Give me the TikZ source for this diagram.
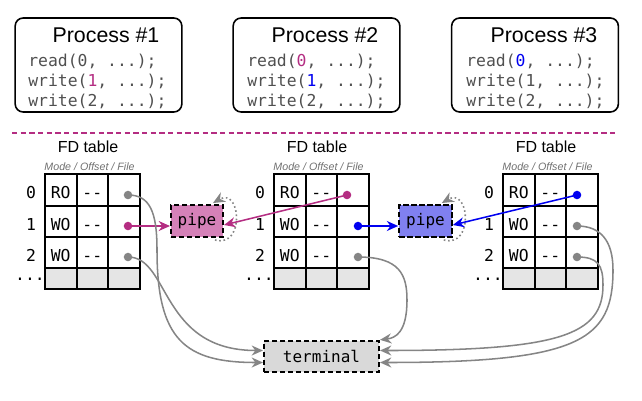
\documentclass[tikz,border=0pt]{standalone}
\usepackage{fontspec}
\setmainfont{Liberation Sans}
\newfontfamily\codefont{DejaVu Sans Mono}
\usetikzlibrary{arrows.meta,calc}

\definecolor{pmag}{HTML}{B42D82}
\definecolor{pblue}{HTML}{0000F0}
\definecolor{pmagfill}{HTML}{D581B8}
\definecolor{pbluefill}{HTML}{8080F0}
\definecolor{codegray}{HTML}{505050}
\definecolor{subgray}{HTML}{707070}
\definecolor{wire}{HTML}{858585}

% one FD table: #1 = left edge, #2 = name prefix
\newcommand{\fdgrid}[2]{%
  \begin{scope}[shift={(#1,0)}]
    \fill[gray!20] (0,268) rectangle (94.5,289);
    \draw[tbl] (0,174) rectangle (94.5,289);
    \draw[tbl] (0,205.5) -- (94.5,205.5) (0,237) -- (94.5,237) (0,268) -- (94.5,268);
    \draw[tbl] (31.5,174) -- (31.5,289) (63,174) -- (63,289);
    \node[hdr] (#2-title) at (43,147) {FD table};
    \node[sub] (#2-sub) at (44.5,167) {Mode / Offset / File};
    \foreach \r/\m/\y in {0/RO/198,1/WO/230,2/WO/261} {
      \node[celltext] (#2-fd\r) at (-14,\y) {\r};
      \node[celltext] (#2-mode\r) at (15.75,\y) {\m};
      \node[celltext] (#2-off\r) at (47.25,\y) {-{}-};
    }
    \node[celltext] (#2-more) at (-15,280) {...};
  \end{scope}}

\begin{document}
\begin{tikzpicture}[x=0.75pt,y=-0.75pt,
  procbox/.style={draw, line width=1.2pt, rounded corners=6pt,
    minimum width=125pt, minimum height=70.5pt, inner sep=0pt},
  title/.style={font=\fontsize{16}{19}\selectfont, anchor=base, inner sep=0pt},
  code/.style={font=\codefont\fontsize{12.3}{15}\selectfont, text=codegray,
    anchor=base west, inner sep=0pt},
  hdr/.style={font=\fontsize{12}{14}\selectfont, inner sep=0pt},
  sub/.style={font=\itshape\fontsize{8}{10}\selectfont, text=subgray, inner sep=0pt},
  tbl/.style={line width=1.5pt},
  celltext/.style={font=\codefont\fontsize{12.3}{14}\selectfont, anchor=base, inner sep=0pt},
  dot/.style={circle, fill=#1, inner sep=0pt, minimum size=6.4pt},
  filebox/.style={draw, dash pattern=on 4pt off 2pt, line width=1.5pt, fill=#1,
    font=\codefont\fontsize{12}{14}\selectfont, inner sep=0pt},
  conn/.style={line width=1.15pt, -{Stealth[length=8.5pt,width=7.5pt]}},
  selfloop/.style={wire, dotted, line width=1.2pt, -{Stealth[length=9pt,width=8pt]}},
]
\useasboundingbox (0,0) rectangle (642,400);

% processes
\node[procbox] (proc1) at (98.5,65) {};
\node[procbox] (proc2) at (316.5,65) {};
\node[procbox] (proc3) at (535,65) {};

\node[title] (t1) at (106,42) {Process \#1};
\node[title] (t2) at (325,42) {Process \#2};
\node[title] (t3) at (544,42) {Process \#3};

\node[code] (p1a) at (28,66)  {read(0, ...);};
\node[code] (p1b) at (28,86)  {write({\color{pmag}1}, ...);};
\node[code] (p1c) at (28,106) {write(2, ...);};

\node[code] (p2a) at (247,66)  {read({\color{pmag}0}, ...);};
\node[code] (p2b) at (247,86)  {write({\color{pblue}1}, ...);};
\node[code] (p2c) at (247,106) {write(2, ...);};

\node[code] (p3a) at (466,66)  {read({\color{pblue}0}, ...);};
\node[code] (p3b) at (466,86)  {write(1, ...);};
\node[code] (p3c) at (466,106) {write(2, ...);};

% user / kernel divider
\draw[pmag, line width=1.2pt, dash pattern=on 4pt off 2.5pt] (12,133) -- (617,133);

% descriptor tables
\fdgrid{45}{ta}
\fdgrid{274}{tb}
\fdgrid{503}{tc}

% open files
\node[filebox=pmagfill, minimum width=39pt, minimum height=24pt] (pipeA) at (197,221) {pipe};
\node[filebox=pbluefill, minimum width=39.5pt, minimum height=24pt] (pipeB) at (425.5,221) {pipe};
\node[filebox=gray!30, minimum width=86.25pt, minimum height=23.5pt] (term) at (321.5,356.5) {terminal};

% file pointers
\node[dot=wire] (a0) at (128,195) {};
\node[dot=pmag] (a1) at (128,226) {};
\node[dot=wire] (a2) at (128,257) {};
\node[dot=pmag] (b0) at (347,195) {};
\node[dot=pblue] (b1) at (358,226) {};
\node[dot=wire] (b2) at (358,257) {};
\node[dot=pblue] (c0) at (577,195) {};
\node[dot=wire] (c1) at (577,226) {};
\node[dot=wire] (c2) at (577,257) {};

% pipe ends
\draw[conn, pmag] (a1.center) -- (a1.center -| pipeA.west);
\draw[conn, pmag] (b0.center) -- ($(pipeA.east)+(0,4)$);
\draw[conn, pblue] (b1.center) -- (b1.center -| pipeB.west);
\draw[conn, pblue] (c0.center) -- ($(pipeB.east)+(0,4)$);

% pipes feed themselves
\draw[selfloop] ($(pipeA.south east)+(-9,2)$) .. controls +(30,8) and +(28,-16) .. ($(pipeA.north east)+(-11,-1)$);
\draw[selfloop] ($(pipeB.south east)+(-9,2)$) .. controls +(30,8) and +(28,-16) .. ($(pipeB.north east)+(-11,-1)$);

% terminal links
\draw[conn, wire] (a0.center) .. controls (150,195) and (157,212) .. (157,250)
  .. controls (157,340) and (185,362.5) .. ($(term.west)+(0,6)$);
\draw[conn, wire] (a2.center) .. controls (170,257) and (160,350.5) .. ($(term.west)+(0,-6)$);
\draw[conn, wire] (b2.center) .. controls (400,257) and (407,275) .. (407,300)
  .. controls (407,333) and (395,338) .. (term.north east);
\draw[conn, wire] (c1.center) .. controls (600,226) and (613,240) .. (613,270)
  .. controls (613,340) and (580,362.5) .. ($(term.east)+(0,6)$);
\draw[conn, wire] (c2.center) .. controls (598,257) and (603,265) .. (603,285)
  .. controls (603,335) and (560,350.5) .. ($(term.east)+(0,-6)$);
\end{tikzpicture}
\end{document}
